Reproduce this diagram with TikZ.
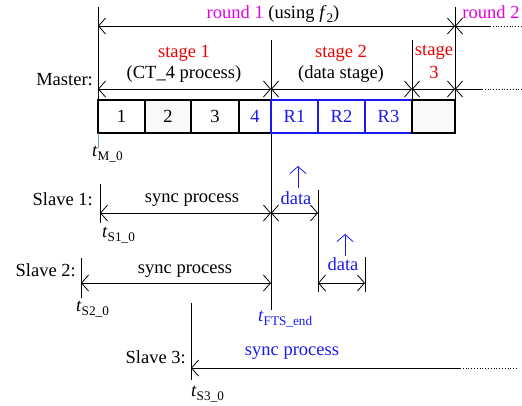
\documentclass[tikz,border=0pt]{standalone}
\usepackage{fontspec}
\setmainfont{Liberation Serif}
\usetikzlibrary{arrows.meta}
\definecolor{rndcol}{RGB}{230,0,230}
\definecolor{stgcol}{RGB}{240,0,0}
\definecolor{datcol}{RGB}{25,25,240}
\definecolor{tickcol}{RGB}{120,150,200}
% subscript set at a fixed size below the baseline
\newcommand{\lowsub}[1]{\raisebox{-4.5pt}{\fontsize{13.2}{14}\selectfont #1}}
\newcommand{\tlabel}[1]{\textit{t}\lowsub{#1}}
\begin{document}
\begin{tikzpicture}[x=1pt,y=-1pt,
  font=\fontsize{18.5}{21}\selectfont,
  barb/.tip={Straight Barb[length=7pt,width=16pt]},
  rule/.style={line width=0.8pt},
  span/.style={rule,barb-barb},
  lspan/.style={rule,barb-},
  dots/.style={rule,dotted},
  lbl/.style={inner sep=0pt,anchor=base},
  lblr/.style={inner sep=0pt,anchor=base east},
  lbll/.style={inner sep=0pt,anchor=base west},
  slot/.style={draw,line width=1.2pt,inner sep=0pt,outer sep=0pt,
    minimum height=33pt,anchor=north west},
  rslot/.style={slot,draw=datcol,text=datcol},
  up/.style={rule,datcol,-barb}]
\useasboundingbox (0,0) rectangle (522,405);

% ---- master time frame ----
\coordinate (m0top) at (98,7);
\coordinate (m0) at (98,100);
\coordinate (r2top) at (455,7);
\coordinate (r2) at (455,100);
\coordinate (s2top) at (271,40);
\coordinate (fts) at (271,310);
\coordinate (s3top) at (412,40);
\coordinate (s3) at (412,100);
\draw[rule] (m0top) -- (m0);
\draw[rule] (r2top) -- (r2);
\draw[rule] (s2top) -- (fts);
\draw[rule] (s3top) -- (s3);

% round spans
\coordinate (ra) at (98,26);
\coordinate (rb) at (455,26);
\coordinate (rc) at (490,26);
\coordinate (rd) at (522,26);
\draw[span] (ra) -- (rb);
\draw[lspan] (rb) -- (rc);
\draw[dots] (rc) -- (rd);
\node[lbl] (round1) at (273,18) {\textcolor{rndcol}{round 1} (using \textit{f}\lowsub{2})};
\node[lbl] (round2) at (491,18) {\textcolor{rndcol}{round 2}};

% stage spans
\coordinate (sa) at (98,89);
\coordinate (sb) at (271,89);
\coordinate (sc) at (412,89);
\coordinate (sd) at (455,89);
\coordinate (se) at (482,89);
\coordinate (sf) at (522,89);
\draw[span] (sa) -- (sb);
\draw[span] (sb) -- (sc);
\draw[span] (sc) -- (sd);
\draw[lspan] (sd) -- (se);
\draw[dots] (se) -- (sf);
\node[lbl,text=stgcol] (st1) at (184,57) {stage 1};
\node[lbl] (st1b) at (184,78) {(CT\_4 process)};
\node[lbl,text=stgcol] (st2) at (341,57) {stage 2};
\node[lbl] (st2b) at (341,78) {(data stage)};
\node[lbl,text=stgcol] (st3) at (434,55) {stage};
\node[lbl,text=stgcol] (st3b) at (434,78) {3};
\node[lblr] (master) at (93,85) {Master:};

% slots
\node[slot,minimum width=47pt] (b1) at (98,100) {1};
\node[slot,minimum width=46pt,fill=gray!5] (b2) at (145,100) {2};
\node[slot,minimum width=48pt] (b3) at (191,100) {3};
\node[slot,minimum width=32pt,text=datcol] (b4) at (239,100) {4};
\node[rslot,minimum width=47pt] (r1) at (271,100) {R1};
\node[rslot,minimum width=47pt] (r2b) at (318,100) {R2};
\node[rslot,minimum width=47pt] (r3) at (365,100) {R3};
\node[slot,minimum width=43pt,fill=gray!5] (b8) at (412,100) {};

\coordinate (mt) at (98,148);
\draw[line width=0.8pt,tickcol] (b1.south west) -- (mt);
\node[lbll] (tm0) at (92,156) {\tlabel{M\_0}};

% ---- slave 1 ----
\coordinate (s1top) at (100,184);
\coordinate (s1bot) at (100,223);
\draw[rule] (s1top) -- (s1bot);
\coordinate (s1a) at (100,213);
\coordinate (s1b) at (271,213);
\coordinate (d1b) at (318,213);
\draw[span] (s1a) -- (s1b);
\draw[span] (s1b) -- (d1b);
\coordinate (d1top) at (318,190);
\coordinate (d1bot) at (318,292);
\draw[rule] (d1top) -- (d1bot);
\node[lblr] (slave1) at (93,205) {Slave 1:};
\node[lbl] (sync1) at (192,202) {sync process};
\node[lbll] (ts1) at (102,237) {\tlabel{S1\_0}};
\node[lbl,text=datcol] (data1) at (296,204) {data};
\coordinate (u1a) at (298,188);
\coordinate (u1b) at (298,166);
\draw[up] (u1a) -- (u1b);

% ---- slave 2 ----
\coordinate (s2ttop) at (81,258);
\coordinate (s2tbot) at (81,298);
\draw[rule] (s2ttop) -- (s2tbot);
\coordinate (s2a) at (81,283);
\coordinate (s2b) at (271,283);
\coordinate (d2a) at (318,283);
\coordinate (d2b) at (365,283);
\draw[span] (s2a) -- (s2b);
\draw[span] (d2a) -- (d2b);
\coordinate (d2top) at (365,257);
\coordinate (d2bot) at (365,292);
\draw[rule] (d2top) -- (d2bot);
\node[lblr] (slave2) at (76,276) {Slave 2:};
\node[lbl] (sync2) at (185,273) {sync process};
\node[lbll] (ts2) at (76,311) {\tlabel{S2\_0}};
\node[lbl,text=datcol] (data2) at (343,270) {data};
\coordinate (u2a) at (345,256);
\coordinate (u2b) at (345,234);
\draw[up] (u2a) -- (u2b);
\node[lbll,text=datcol] (tfts) at (258,321) {\tlabel{FTS\_end}};

% ---- slave 3 ----
\coordinate (s3ttop) at (191,303);
\coordinate (s3tbot) at (191,380);
\draw[rule] (s3ttop) -- (s3tbot);
\coordinate (s3a) at (191,368);
\coordinate (s3b) at (460,368);
\coordinate (s3c) at (518,368);
\draw[lspan] (s3a) -- (s3b);
\draw[dots] (s3b) -- (s3c);
\node[lblr] (slave3) at (186,363) {Slave 3:};
\node[lbl,text=datcol] (sync3) at (292,355) {sync process};
\node[lbll] (ts3) at (191,396) {\tlabel{S3\_0}};
\end{tikzpicture}
\end{document}
